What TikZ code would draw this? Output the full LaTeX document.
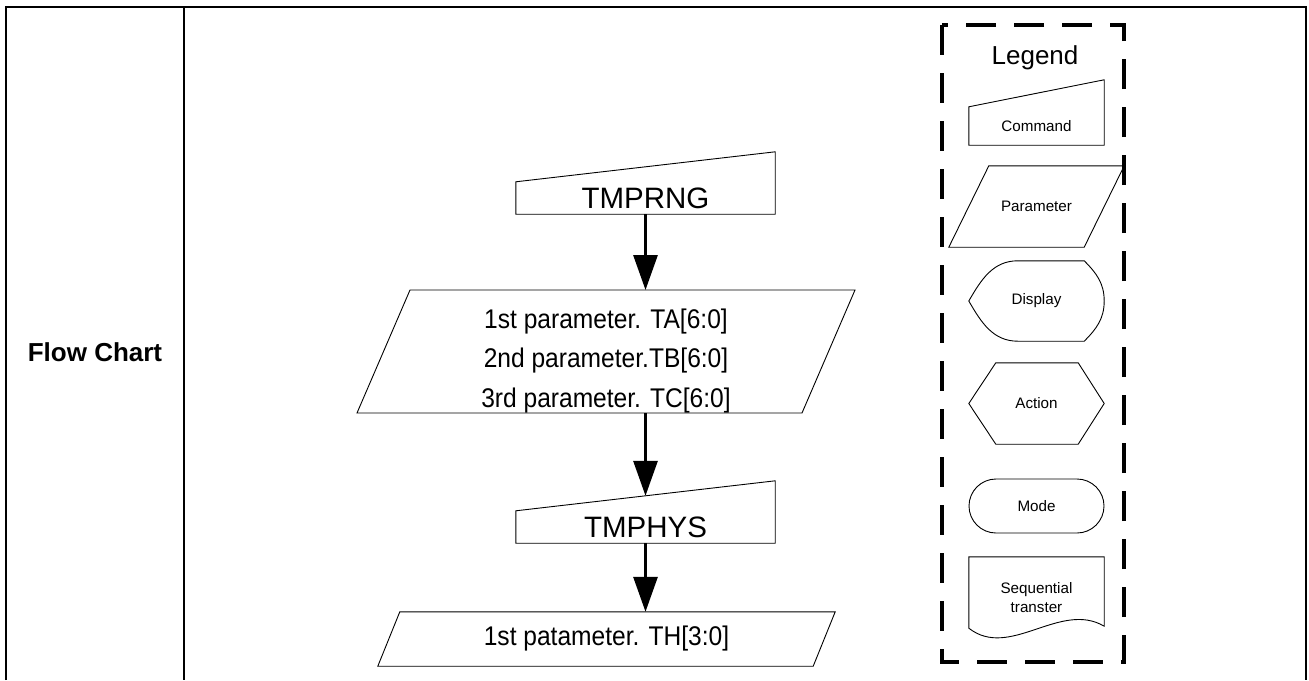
\documentclass[tikz,border=0pt]{standalone}
\usepackage{fontspec}
\setmainfont{Liberation Sans}
\newfontfamily\narrowsans[FakeStretch=0.91]{Liberation Sans}
\usetikzlibrary{arrows.meta,positioning,calc}

\begin{document}
\begin{tikzpicture}[
    x=1pt, y=-1pt,
    frame/.style={draw=black, line width=2.5pt},
    outline/.style={draw=black, line width=0.9pt, line join=miter},
    cmdbox/.style={minimum width=259pt, minimum height=32pt, inner sep=0pt, font=\fontsize{29.5}{36}\selectfont},
    parbox/.style={inner sep=0pt, align=center, font=\narrowsans\fontsize{27}{39.5}\selectfont},
    keybox/.style={minimum width=135pt, inner sep=0pt, align=center, font=\fontsize{15.2}{19}\selectfont},
    legendbox/.style={draw=black, line width=4pt, dash pattern=on 30pt off 18pt},
    arrow/.style={-{Triangle[length=35pt,width=24pt]}, line width=3pt}
]
\useasboundingbox (0,0) rectangle (1309,680);

% table
\draw[frame] (6,680) -- (6,7) -- (1306,7) -- (1306,680);
\draw[frame] (184,7) -- (184,680);
\node[font=\bfseries\fontsize{26}{30}\selectfont] (title) at (95,352) {Flow Chart};

% flow
\node[cmdbox] (tmprng) at (645.5,198) {TMPRNG};
\node[parbox] (par1) at (606,361)
    {1st parameter. TA[6:0]\\2nd parameter.TB[6:0]\\3rd parameter. TC[6:0]};
\node[cmdbox] (tmphys) at (645.5,527) {TMPHYS};
\node[parbox, minimum width=435pt, minimum height=54pt] (par2) at (606.5,639) {1st patameter. TH[3:0]};

\coordinate (par1 top) at ($(par1.center)+(0,-71)$);
\coordinate (par1 bot) at ($(par1.center)+(0,52)$);

\draw[outline] (tmprng.south west) -- (tmprng.south east) -- ([yshift=30pt]tmprng.north east) -- (tmprng.north west) -- cycle;
\draw[outline] ($(par1 top)+(-196,0)$) -- ($(par1 top)+(249,0)$)
    -- ($(par1 bot)+(196,0)$) -- ($(par1 bot)+(-249,0)$) -- cycle;
\draw[outline] (tmphys.south west) -- (tmphys.south east) -- ([yshift=30pt]tmphys.north east) -- (tmphys.north west) -- cycle;
\draw[outline] ([xshift=11pt]par2.north west) -- ([xshift=11pt]par2.north east)
    -- ([xshift=-11pt]par2.south east) -- ([xshift=-11pt]par2.south west) -- cycle;

\draw[arrow] (tmprng.south) -- (tmprng.south |- par1 top);
\draw[arrow] (tmphys.north |- par1 bot) -- ([yshift=15pt]tmphys.north);
\draw[arrow] (tmphys.south) -- (tmphys.south |- par2.north);

% legend
\draw[legendbox] (942,25) rectangle (1124,662);
\node[font=\fontsize{26}{30}\selectfont] (legend) at (1035,58) {Legend};

\node[keybox, minimum height=38pt] (kcmd) at (1036.5,126) {Command};
\draw[outline] (kcmd.south west) -- (kcmd.south east) -- ([yshift=27pt]kcmd.north east) -- (kcmd.north west) -- cycle;

\node[keybox, minimum height=81pt] (kpar) at (1036.5,206.5) {Parameter};
\draw[outline] ([xshift=20pt]kpar.north west) -- ([xshift=20pt]kpar.north east)
    -- ([xshift=-20pt]kpar.south east) -- ([xshift=-20pt]kpar.south west) -- cycle;

\node[keybox, minimum height=80pt] (kdisp) at (1036.5,301) {Display};
\draw[outline] ([xshift=49pt]kdisp.north west) -- ([xshift=-20pt]kdisp.north east)
    to[out=-45,in=90] (kdisp.east) to[out=-90,in=45] ([xshift=-20pt]kdisp.south east)
    -- ([xshift=49pt]kdisp.south west) to[out=180,in=-60] (kdisp.west)
    to[out=60,in=180] ([xshift=49pt]kdisp.north west) -- cycle;

\node[keybox, minimum height=81pt] (kact) at (1036.5,403.5) {Action};
\draw[outline] ([xshift=27pt]kact.north west) -- ([xshift=-26pt]kact.north east) -- (kact.east)
    -- ([xshift=-26pt]kact.south east) -- ([xshift=27pt]kact.south west) -- (kact.west) -- cycle;

\node[keybox, minimum height=54pt, outline, rounded corners=27pt] (kmode) at (1036.5,506) {Mode};

\node[keybox, minimum height=81pt] (kseq) at (1036.5,597.5) {Sequential\\transter};
\draw[outline] (kseq.north west) -- (kseq.north east) -- ([yshift=12pt]kseq.south east)
    .. controls ($(kseq.south east)+(-44,-38)$) and ($(kseq.south west)+(41,22)$) .. ([yshift=10pt]kseq.south west) -- cycle;
\end{tikzpicture}
\end{document}
